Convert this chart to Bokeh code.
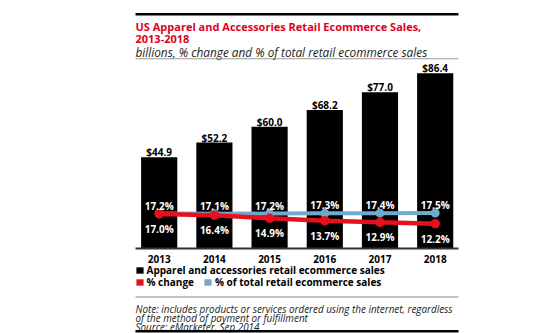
from bokeh.plotting import figure
from bokeh.models import Range1d, Label, BoxAnnotation, Legend, LegendItem, ColumnDataSource
from bokeh.embed import file_html
from bokeh.resources import INLINE
from bokeh.core.properties import value

# ---- data ----
years = ["2013", "2014", "2015", "2016", "2017", "2018"]
sales = [44.9, 52.2, 60.0, 68.2, 77.0, 86.4]          # billions
pct_change = [17.0, 16.4, 14.9, 13.7, 12.9, 12.2]     # % change
pct_total = [17.2, 17.1, 17.2, 17.3, 17.4, 17.5]      # % of total retail ecommerce sales

title1 = "US Apparel and Accessories Retail Ecommerce Sales,"
title2 = "2013-2018"
subtitle = "billions, % change and % of total retail ecommerce sales"
legend_labels = ["Apparel and accessories retail ecommerce sales", "% change",
                 "% of total retail ecommerce sales"]
notes = ["Note: includes products or services ordered using the internet, regardless",
         "of the method of payment or fulfillment",
         "Source: eMarketer, Sep 2014"]

# ---- style ----
W, H = 549, 333
RED = "#e8101e"
TITLE_RED = "#e0001b"
BLUE = "#6fa9cb"
FONT = "Open Sans"

idx = list(range(len(years)))
src = ColumnDataSource(dict(
    x=idx, year=years, sales=sales, chg=pct_change, tot=pct_total,
    sales_lbl=[f"${v:.1f}" for v in sales],
    chg_lbl=[f"{v:.1f}%" for v in pct_change],
    tot_lbl=[f"{v:.1f}%" for v in pct_total],
))

p = figure(width=W, height=H, output_backend="svg", toolbar_location=None,
           x_range=Range1d(-2.875, 7.071), y_range=Range1d(-41.9, 122.2),
           min_border=0, x_axis_type=None, y_axis_type=None)
p.grid.visible = False
p.outline_line_color = None
p.background_fill_color = "white"

bars = p.vbar(x="x", top="sales", width=0.655, source=src, fill_color="black",
              line_color=None)

# baseline
p.add_layout(BoxAnnotation(left=135, right=458, bottom=H - 249, top=H - 247,
                           left_units="screen", right_units="screen",
                           bottom_units="screen", top_units="screen",
                           fill_color="#333333", fill_alpha=1, line_color=None))

p.line(x="x", y="tot", source=src, line_color=BLUE, line_width=4)
p.scatter(x="x", y="tot", source=src, size=9, fill_color=BLUE, line_color=None)
p.line(x="x", y="chg", source=src, line_color=RED, line_width=4.5)
p.scatter(x="x", y="chg", source=src, size=9.5, fill_color=RED, line_color=None)

common = dict(text_font=value(FONT), text_font_style="bold", text_align="center")
p.text(x="x", y="sales", text="sales_lbl", source=src, y_offset=-5,
       text_baseline="alphabetic", text_font_size="10px", text_color="black", **common)
p.text(x="x", y="tot", text="tot_lbl", source=src, y_offset=-8,
       text_baseline="alphabetic", text_font_size="10px", text_color="white", **common)
p.text(x="x", y="chg", text="chg_lbl", source=src, y_offset=15,
       text_baseline="alphabetic", text_font_size="10px", text_color="white", **common)
p.text(x="x", y=0, text="year", source=src, y_offset=11,
       text_baseline="alphabetic", text_font_size="10px", text_color="black", **common)

# titles
def lab(x, y, text, size, style="normal", color="black"):
    p.add_layout(Label(x=x, y=H - y, x_units="screen", y_units="screen", text=text,
                       text_font=FONT, text_font_size=size, text_font_style=style,
                       text_color=color, text_baseline="alphabetic"))

def rule(y0, y1, color, x0=135, x1=458):
    p.add_layout(BoxAnnotation(left=x0, right=x1, bottom=H - y1, top=H - y0,
                               left_units="screen", right_units="screen",
                               bottom_units="screen", top_units="screen",
                               fill_color=color, fill_alpha=1, line_color=None))

rule(12.5, 15, "black")
lab(135, 25.7, title1, "11px", "bold", TITLE_RED)
lab(135, 38.3, title2, "11px", "bold", TITLE_RED)
lab(135, 51.7, subtitle, "11.8px", "italic", "#222222")
rule(57.7, 58.8, "#999999")

# legend (swatch renderers: zero-width bars, invisible in the plot area)
r_sw = p.vbar(x="x", top="chg", width=0, source=src, fill_color=RED, line_color=None)
b_sw = p.vbar(x="x", top="tot", width=0, source=src, fill_color=BLUE, line_color=None)
leg_style = dict(orientation="horizontal", padding=0, margin=0, spacing=9,
                 border_line_color=None, background_fill_alpha=0,
                 glyph_width=9, glyph_height=8, label_standoff=3, label_height=8,
                 label_text_font=FONT, label_text_font_style="bold",
                 label_text_font_size="10px", label_text_color="black")
leg1 = Legend(items=[LegendItem(label=legend_labels[0], renderers=[bars])],
              location=(134.5, H - 276.5), **leg_style)
leg2 = Legend(items=[LegendItem(label=legend_labels[1], renderers=[r_sw]),
                     LegendItem(label=legend_labels[2], renderers=[b_sw])],
              location=(134.5, H - 289.2), **leg_style)
p.add_layout(leg1)
p.add_layout(leg2)

rule(296, 297, "#888888")
for t, yb in zip(notes, [308.5, 317.5, 326.3]):
    lab(135, yb, t, "9.9px", "italic", "#222222")
rule(329.5, 332, "black")

open("out.html", "w").write(file_html(p, INLINE))
